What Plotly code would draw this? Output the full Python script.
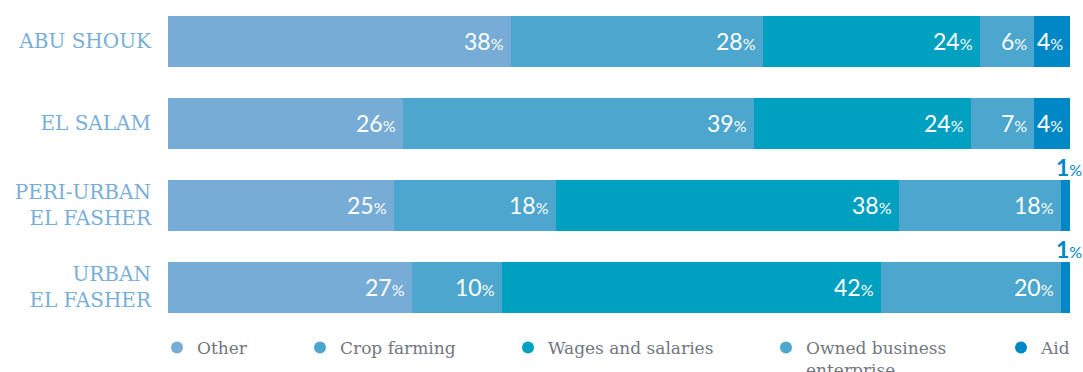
import plotly.graph_objects as go

# Income sources by location (share of households, %)
locations = ["ABU SHOUK", "EL SALAM", "PERI-URBAN<br>EL FASHER", "URBAN<br>EL FASHER"]
sources = ["Other", "Crop farming", "Wages and salaries", "Owned business<br>enterprise", "Aid"]
other = [38, 26, 25, 27]
crop_farming = [28, 39, 18, 10]
wages = [24, 24, 38, 42]
owned_business = [6, 7, 18, 20]
aid = [4, 4, 1, 1]

series = [other, crop_farming, wages, owned_business, aid]
colors = ["#76ACD6", "#4CA6CD", "#00A0C1", "#4CA6CD", "#0087C5"]

# pixel centres of the legend swatches
legend_px = [177, 320, 528, 786, 1021]
W, H = 1083, 372

NUM_FONT = "Lato"
SERIF = "DejaVu Serif"

fig = go.Figure()

for i, (name, vals, col) in enumerate(zip(sources, series, colors)):
    fig.add_trace(go.Bar(
        y=locations, x=vals, name=name, orientation="h",
        marker=dict(color=col, line=dict(width=0)),
        width=0.622, showlegend=False, hoverinfo="x+name",
    ))
    # circle swatch shown in its own legend box
    lg = "legend" if i == 0 else f"legend{i + 1}"
    fig.add_trace(go.Scatter(
        x=[None], y=[None], mode="markers", name=name,
        marker=dict(symbol="circle", size=12, color=col),
        legend=lg, showlegend=True,
    ))

# value labels at the inner right end of each segment
annotations = []
for r, loc in enumerate(locations):
    cum = 0
    for vals in series:
        v = vals[r]
        cum += v
        if v >= 2:
            annotations.append(dict(
                x=cum, y=loc, xref="x", yref="y", xanchor="right", yanchor="middle",
                xshift=-5, showarrow=False,
                text=f"{v}<span style='font-size:16px'>%</span>",
                font=dict(family=NUM_FONT, size=23, color="white"),
            ))
        else:
            annotations.append(dict(
                x=cum - v / 2, y=loc, xref="x", yref="y", xanchor="center", yanchor="middle",
                xshift=4, yshift=38, showarrow=False,
                text=f"<b>{v}</b><span style='font-size:16px'>%</span>",
                font=dict(family=NUM_FONT, size=23, color="#0087C5"),
            ))

layout_legends = {}
for i, px in enumerate(legend_px):
    key = "legend" if i == 0 else f"legend{i + 1}"
    layout_legends[key] = dict(
        x=(px - 20) / W, y=(H - 330) / H, xanchor="left", yanchor="top",
        xref="container", yref="container",
        orientation="h", bgcolor="rgba(0,0,0,0)", borderwidth=0,
        font=dict(family=SERIF, size=17, color="#72777F"),
        itemclick=False, itemdoubleclick=False, tracegroupgap=0,
        valign="top",
    )

fig.update_layout(
    barmode="stack",
    width=W, height=H,
    margin=dict(l=168, r=13, t=0, b=44, pad=0, autoexpand=False),
    paper_bgcolor="white", plot_bgcolor="white",
    xaxis=dict(range=[0, 100], visible=False, fixedrange=True),
    yaxis=dict(
        range=[len(locations) - 0.5, -0.5], showgrid=False, zeroline=False, showline=False,
        ticks="", ticklabelstandoff=16, fixedrange=True,
        tickfont=dict(family=SERIF, size=20, color="#78AED8"),
    ),
    annotations=annotations,
    showlegend=True,
    **layout_legends,
)

fig.write_html("out.html")
